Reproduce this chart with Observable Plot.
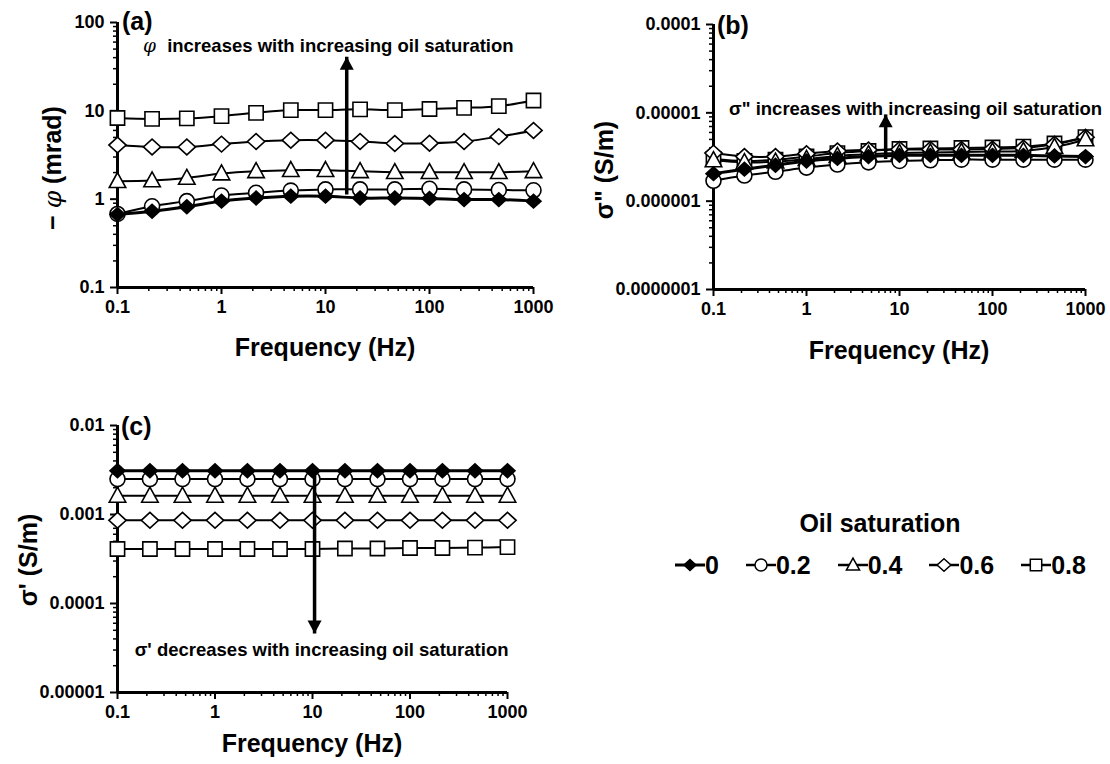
<!DOCTYPE html>
<html><head><meta charset="utf-8">
<script src="https://cdn.jsdelivr.net/npm/d3@7"></script>
<script src="https://cdn.jsdelivr.net/npm/@observablehq/plot@0.6"></script>
<style>
body{margin:0;background:#fff;}
#root{position:relative;width:1110px;height:764px;overflow:hidden;font-family:"Liberation Sans",Arial,sans-serif;font-weight:bold;color:#000;background:#fff;}
.panel{position:absolute;}
#legendTitle{position:absolute;left:760px;width:240px;top:507px;text-align:center;font-size:25px;line-height:32px;}
#legend{position:absolute;left:675px;top:551px;display:flex;align-items:center;font-size:25px;line-height:28px;}
#legend .item{display:flex;align-items:center;margin-right:27px;}
#legend .item:last-child{margin-right:0;}
</style></head><body><div id="root"></div>
<script>
// ---------------- data ----------------
const frequency = [0.1, 0.215, 0.464, 1, 2.15, 4.64, 10, 21.5, 46.4, 100, 215, 464, 1000];
const saturations = ["0", "0.2", "0.4", "0.6", "0.8"];

// (a) −φ (mrad)
const phase_0  = [0.67, 0.73, 0.82, 0.95, 1.03, 1.08, 1.08, 1.03, 1.03, 1.02, 0.99, 0.99, 0.95];
const phase_02 = [0.68, 0.83, 0.95, 1.10, 1.18, 1.25, 1.29, 1.29, 1.29, 1.31, 1.29, 1.27, 1.26];
const phase_04 = [1.60, 1.63, 1.74, 1.95, 2.07, 2.13, 2.13, 2.07, 2.02, 2.02, 2.02, 2.02, 2.07];
const phase_06 = [4.1, 3.9, 3.9, 4.2, 4.5, 4.65, 4.65, 4.5, 4.27, 4.3, 4.5, 5.1, 6.0];
const phase_08 = [8.3, 8.1, 8.2, 8.7, 9.5, 10.2, 10.2, 10.4, 10.2, 10.5, 10.8, 11.3, 13.1];

// (b) σ'' (S/m)
const imag_0  = [2.05e-6, 2.3e-6, 2.55e-6, 2.85e-6, 3.05e-6, 3.2e-6, 3.3e-6, 3.3e-6, 3.3e-6, 3.3e-6, 3.3e-6, 3.25e-6, 3.2e-6];
const imag_02 = [1.7e-6, 1.95e-6, 2.15e-6, 2.4e-6, 2.6e-6, 2.75e-6, 2.85e-6, 2.9e-6, 2.95e-6, 2.95e-6, 2.95e-6, 2.95e-6, 2.95e-6];
const imag_04 = [2.9e-6, 2.75e-6, 2.8e-6, 3.0e-6, 3.25e-6, 3.4e-6, 3.5e-6, 3.55e-6, 3.6e-6, 3.65e-6, 3.7e-6, 4.1e-6, 5.0e-6];
const imag_06 = [3.5e-6, 3.2e-6, 3.2e-6, 3.45e-6, 3.7e-6, 3.8e-6, 3.85e-6, 3.85e-6, 3.85e-6, 3.9e-6, 4.0e-6, 4.4e-6, 5.3e-6];
const imag_08 = [3.0e-6, 2.85e-6, 2.95e-6, 3.2e-6, 3.5e-6, 3.7e-6, 3.9e-6, 3.95e-6, 4.0e-6, 4.05e-6, 4.15e-6, 4.5e-6, 5.3e-6];

// (c) σ' (S/m)
const real_0  = [3.1e-3, 3.1e-3, 3.1e-3, 3.1e-3, 3.1e-3, 3.1e-3, 3.1e-3, 3.1e-3, 3.1e-3, 3.1e-3, 3.1e-3, 3.1e-3, 3.1e-3];
const real_02 = [2.5e-3, 2.5e-3, 2.5e-3, 2.5e-3, 2.5e-3, 2.5e-3, 2.5e-3, 2.5e-3, 2.5e-3, 2.5e-3, 2.5e-3, 2.5e-3, 2.5e-3];
const real_04 = [1.62e-3, 1.62e-3, 1.62e-3, 1.62e-3, 1.62e-3, 1.62e-3, 1.62e-3, 1.62e-3, 1.62e-3, 1.62e-3, 1.62e-3, 1.62e-3, 1.62e-3];
const real_06 = [8.6e-4, 8.6e-4, 8.6e-4, 8.6e-4, 8.6e-4, 8.6e-4, 8.6e-4, 8.6e-4, 8.6e-4, 8.6e-4, 8.6e-4, 8.6e-4, 8.6e-4];
const real_08 = [4.1e-4, 4.1e-4, 4.1e-4, 4.1e-4, 4.1e-4, 4.1e-4, 4.1e-4, 4.15e-4, 4.15e-4, 4.2e-4, 4.2e-4, 4.25e-4, 4.3e-4];

// tick values and labels
const xTicks = [0.1, 1, 10, 100, 1000];
const xTickLabels = ["0.1", "1", "10", "100", "1000"];
const aTicks = [0.1, 1, 10, 100];
const aTickLabels = ["0.1", "1", "10", "100"];
const bTicks = [1e-7, 1e-6, 1e-5, 1e-4];
const bTickLabels = ["0.0000001", "0.000001", "0.00001", "0.0001"];
const cTicks = [1e-5, 1e-4, 1e-3, 1e-2];
const cTickLabels = ["0.00001", "0.0001", "0.001", "0.01"];

// ---------------- symbols ----------------
const diamondSym = {draw(c, s){const r = Math.sqrt(s/Math.PI); const w = r*1.15, h = r*1.05;
  c.moveTo(0,-h); c.lineTo(w,0); c.lineTo(0,h); c.lineTo(-w,0); c.closePath();}};
const squareSym = {draw(c, s){const r = Math.sqrt(s/Math.PI)*0.95; c.rect(-r,-r,2*r,2*r);}};
const triangleSym = {draw(c, s){const r = Math.sqrt(s/Math.PI);
  c.moveTo(0,-r*1.15); c.lineTo(r*1.1, r*0.85); c.lineTo(-r*1.1, r*0.85); c.closePath();}};
const circleSym = d3.symbolCircle;
const headUp = {draw(c, s){const r = Math.sqrt(s/Math.PI);
  c.moveTo(0,0); c.lineTo(r, r*1.85); c.lineTo(-r, r*1.85); c.closePath();}};
const headDown = {draw(c, s){const r = Math.sqrt(s/Math.PI);
  c.moveTo(0,0); c.lineTo(r, -r*1.85); c.lineTo(-r, -r*1.85); c.closePath();}};

const seriesStyle = {
  "0":   {symbol: diamondSym, r: 6.5, fill: "black", lw: 3},
  "0.2": {symbol: circleSym, r: 7.5, fill: "white", lw: 2},
  "0.4": {symbol: triangleSym, r: 7.5, fill: "white", lw: 2},
  "0.6": {symbol: diamondSym, r: 7.5, fill: "white", lw: 2},
  "0.8": {symbol: squareSym, r: 7.5, fill: "white", lw: 2}
};

function table(arrays) {
  const rows = [];
  saturations.forEach((s, i) => arrays[i].forEach((v, j) => rows.push({s, f: frequency[j], v})));
  return rows;
}
function minors(domain) {
  const out = [];
  for (let d = domain[0]; d < domain[1] * 0.999; d *= 10) for (let k = 2; k <= 9; k++) out.push(d * k);
  return out;
}

const FONT = "Liberation Sans, Arial, sans-serif";
const root = document.getElementById("root");

function panel(cfg) {
  const data = table(cfg.arrays);
  const xDomain = [0.1, 1000];
  const marks = [
    Plot.axisX({ticks: minors(xDomain), tickSize: 4, tickFormat: () => "", strokeWidth: 1.5, label: null}),
    Plot.axisX({ticks: xTicks, tickSize: 7, tickPadding: 6, strokeWidth: 2, label: null, fontSize: 18,
      tickFormat: d => xTickLabels[xTicks.indexOf(d)]}),
    Plot.axisY({ticks: minors(cfg.yDomain), tickSize: 4, tickFormat: () => "", strokeWidth: 1.5, label: null}),
    Plot.axisY({ticks: cfg.yTicks, tickSize: 7, tickPadding: 6, strokeWidth: 2, label: null, fontSize: 18,
      tickFormat: d => cfg.yLabels[cfg.yTicks.indexOf(d)]}),
    Plot.ruleX([xDomain[0]], {stroke: "black", strokeWidth: 3}),
    Plot.ruleY([cfg.yDomain[0]], {stroke: "black", strokeWidth: 3})
  ];
  const order = ["0.8", "0.6", "0.4", "0.2", "0"];
  for (const s of order) {
    marks.push(Plot.line(data.filter(d => d.s === s), {x: "f", y: "v", curve: "catmull-rom",
      stroke: "black", strokeWidth: seriesStyle[s].lw}));
  }
  for (const s of order) {
    const st = seriesStyle[s];
    marks.push(Plot.dot(data.filter(d => d.s === s), {x: "f", y: "v", symbol: st.symbol, r: st.r,
      fill: st.fill, stroke: "black", strokeWidth: 1.6}));
  }
  const ar = cfg.arrow;
  marks.push(Plot.link([ar], {x1: "x", x2: "x", y1: "from", y2: "to", stroke: "black", strokeWidth: 3.5}));
  marks.push(Plot.dot([ar], {x: "x", y: "to", symbol: ar.to > ar.from ? headUp : headDown, r: 7, fill: "black", stroke: "none"}));
  for (const t of cfg.texts) {
    marks.push(Plot.text([t], {x: "x", y: "y", text: "text", dx: t.dx || 0, fontSize: 18.5,
      fontWeight: t.italic ? "normal" : "bold", fontStyle: t.italic ? "italic" : "normal",
      fontFamily: t.italic ? "DejaVu Serif, serif" : FONT, textAnchor: "middle"}));
  }
  const svg = Plot.plot({
    width: cfg.width, height: cfg.height,
    marginTop: cfg.mt, marginRight: cfg.mr, marginBottom: cfg.mb, marginLeft: cfg.ml,
    x: {type: "log", domain: xDomain, label: null},
    y: {type: "log", domain: cfg.yDomain, label: null},
    style: {fontFamily: FONT, fontSize: "18px", fontWeight: "bold", color: "black", background: "white", overflow: "visible"},
    marks
  });
  const g = d3.select(svg);
  g.append("text").attr("x", cfg.letter[0]).attr("y", cfg.letter[1]).attr("dominant-baseline", "central")
    .attr("text-anchor", "start")
    .attr("font-size", 25).attr("font-weight", "bold").attr("fill", "black").text(cfg.letterText);
  g.append("text").attr("x", cfg.xTitle[0]).attr("y", cfg.xTitle[1]).attr("text-anchor", "middle")
    .attr("dominant-baseline", "central").attr("font-size", 25).attr("font-weight", "bold").attr("fill", "black")
    .text("Frequency (Hz)");
  const yt = g.append("text").attr("transform", `translate(${cfg.yTitle[0]},${cfg.yTitle[1]}) rotate(-90)`)
    .attr("text-anchor", "middle").attr("dominant-baseline", "central").attr("font-size", 25)
    .attr("font-weight", "bold").attr("fill", "black");
  cfg.yTitleParts.forEach(p => {
    const ts = yt.append("tspan").text(p.t);
    if (p.italic) ts.attr("font-style", "italic").attr("font-family", "DejaVu Serif, serif").attr("font-weight", "normal");
  });
  const wrap = document.createElement("div");
  wrap.className = "panel";
  wrap.style.left = cfg.left + "px";
  wrap.style.top = cfg.top + "px";
  wrap.appendChild(svg);
  root.appendChild(wrap);
}

panel({
  left: 0, top: 0, width: 560, height: 380, mt: 22, mr: 27, mb: 93, ml: 117,
  arrays: [phase_0, phase_02, phase_04, phase_06, phase_08],
  yDomain: [0.1, 100], yTicks: aTicks, yLabels: aTickLabels,
  arrow: {x: 16, from: 1.13, to: 41},
  texts: [{x: 13.9, y: 54, text: "increases with increasing oil saturation"},
          {x: 13.9, y: 54, dx: -191, text: "φ", italic: true}],
  letter: [122, 21], letterText: "(a)",
  xTitle: [325, 347], yTitle: [52, 168],
  yTitleParts: [{t: "− "}, {t: "φ", italic: true}, {t: " (mrad)"}]
});

panel({
  left: 560, top: 0, width: 550, height: 380, mt: 24, mr: 25, mb: 91, ml: 153,
  arrays: [imag_0, imag_02, imag_04, imag_06, imag_08],
  yDomain: [1e-7, 1e-4], yTicks: bTicks, yLabels: bTickLabels,
  arrow: {x: 7.1, from: 3.0e-6, to: 9.6e-6},
  texts: [{x: 14.9, y: 1.09e-5, text: "σ\" increases with increasing oil saturation"}],
  letter: [157, 25], letterText: "(b)",
  xTitle: [339, 350], yTitle: [44, 170],
  yTitleParts: [{t: "σ\" (S/m)"}]
});

panel({
  left: 0, top: 400, width: 560, height: 364, mt: 25, mr: 53, mb: 72, ml: 117,
  arrays: [real_0, real_02, real_04, real_06, real_08],
  yDomain: [1e-5, 1e-2], yTicks: cTicks, yLabels: cTickLabels,
  arrow: {x: 10.5, from: 3.1e-3, to: 4.6e-5},
  texts: [{x: 12.4, y: 2.96e-5, text: "σ' decreases with increasing oil saturation"}],
  letter: [121, 26], letterText: "(c)",
  xTitle: [312, 343], yTitle: [28, 160],
  yTitleParts: [{t: "σ' (S/m)"}]
});

// ---------------- legend ----------------
const title = document.createElement("div");
title.id = "legendTitle";
title.textContent = "Oil saturation";
root.appendChild(title);
const legend = document.createElement("div");
legend.id = "legend";
root.appendChild(legend);
for (const s of saturations) {
  const st = seriesStyle[s];
  const item = document.createElement("div");
  item.className = "item";
  const sv = d3.create("svg").attr("width", 30).attr("height", 24);
  sv.append("line").attr("x1", 0).attr("x2", 30).attr("y1", 12).attr("y2", 12).attr("stroke", "black").attr("stroke-width", s === "0" ? 3 : 2.5);
  const rr = st.r * 0.8;
  sv.append("path").attr("transform", "translate(15,12)")
    .attr("d", d3.symbol(st.symbol, Math.PI * rr * rr)())
    .attr("fill", st.fill).attr("stroke", "black").attr("stroke-width", 1.5);
  item.appendChild(sv.node());
  const lab = document.createElement("span");
  lab.textContent = s;
  item.appendChild(lab);
  legend.appendChild(item);
}
</script>
</body></html>
